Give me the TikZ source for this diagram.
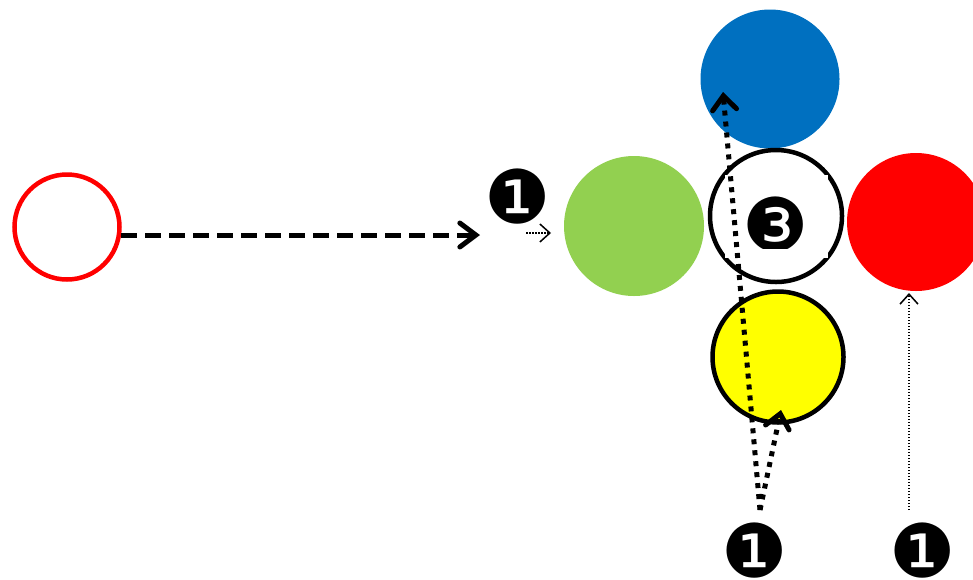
\documentclass[tikz,border=0pt]{standalone}
\usepackage{fontspec}
\newfontfamily\dingfont{DejaVu Sans}
\usetikzlibrary{arrows.meta}
\definecolor{cgreen}{HTML}{92D050}
\definecolor{cblue}{HTML}{0070C0}
\definecolor{cred}{HTML}{FF0000}
\definecolor{cyellow}{HTML}{FFFF00}
\tikzset{
  ball/.style={circle, inner sep=0pt, minimum size=#1},
  num/.style={inner sep=0pt, font=\dingfont\fontsize{74}{74}\selectfont},
  thickdot/.style={line width=5pt, dash pattern=on 5pt off 6pt, -{Straight Barb[length=14pt,width=24pt,line width=5pt,line cap=round,line join=miter]}},
  thindot/.style={line width=1.5pt, dash pattern=on 1.5pt off 1.5pt, -{Straight Barb[length=10pt,width=18pt,line width=1.5pt]}},
}
\begin{document}
\begin{tikzpicture}[x=1pt,y=-1pt]
\useasboundingbox (0,0) rectangle (973,579);
% circles
\node[ball=105pt, draw=cred, line width=4.5pt] (src) at (67,227) {};
\node[ball=140pt, fill=cgreen] (green) at (634,226) {};
\node[ball=139pt, fill=cblue] (blue) at (770,79) {};
\node[ball=132pt, draw=black, line width=4.5pt, fill=white] (white) at (776,216) {};
\fill[white] (725,175) rectangle (828,258);
\node[ball=138pt, fill=cred] (red) at (916,222) {};
\node[ball=131pt, draw=black, line width=4.5pt, fill=cyellow] (yellow) at (778,357) {};
% numbers
\node[num] (n1) at (518,197) {❶};
\begin{scope}
\clip (700,150) rectangle (850,248);
\node[num] (n3) at (776,225) {❸};
\end{scope}
\node[num] (n1b) at (755,551) {❶};
\node[num] (n1c) at (923,551) {❶};
% coordinates
\coordinate (a1s) at (121,235);
\coordinate (a1e) at (480,235);
\coordinate (a2s) at (526,233);
\coordinate (a2e) at (551,233);
\coordinate (b0) at (760,510);
\coordinate (bt) at (723,92);
\coordinate (yt) at (781,410);
\coordinate (rs) at (909,510);
\coordinate (rt) at (909,293);
% arrows
\draw[line width=5pt, dash pattern=on 16pt off 8pt, -{Straight Barb[length=16pt,width=24pt,line width=5pt,line cap=round,line join=miter]}] (a1s) -- (a1e);
\draw[thindot] (a2s) -- (a2e);
\draw[thickdot] (b0) -- (bt);
\draw[thickdot] (b0) -- (yt);
\draw[thindot] (rs) -- (rt);
\end{tikzpicture}
\end{document}
